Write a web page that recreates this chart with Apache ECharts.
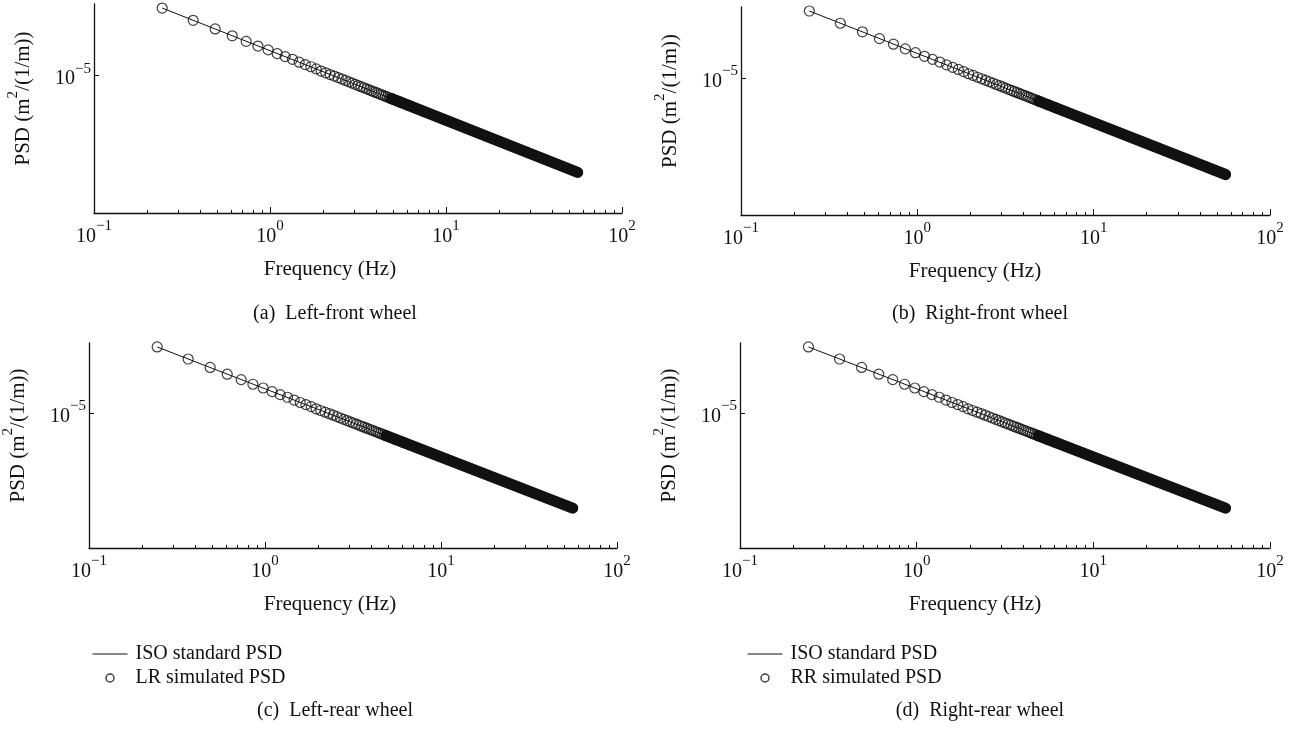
<!DOCTYPE html>
<html>
<head>
<meta charset="utf-8">
<title>PSD of road input, four wheels</title>
<script src="https://cdn.jsdelivr.net/npm/echarts@6/dist/echarts.min.js"></script>
<style>
  html, body { margin: 0; padding: 0; background: #fff; }
  #chart { width: 1307px; height: 736px; }
</style>
</head>
<body>
<div id="chart"></div>
<script>
// simulated PSD points (Hz, m^2/(1/m))
var simFreq = [0.244, 0.366, 0.488, 0.610, 0.732, 0.854, 0.976, 1.098, 1.220, 1.342,
  1.464, 1.586, 1.708, 1.830, 1.952, 2.074, 2.196, 2.318, 2.440, 2.562,
  2.684, 2.806, 2.928, 3.050, 3.172, 3.294, 3.416, 3.538, 3.660, 3.782,
  3.904, 4.026, 4.148, 4.270, 4.392, 4.514, 4.636, 4.758, 4.880, 5.490, 6.100]
var simPsd = [3.04e-5, 2.48e-5, 2.15e-5, 1.92e-5, 1.75e-5, 1.62e-5, 1.52e-5, 1.43e-5, 1.36e-5, 1.30e-5,
  1.24e-5, 1.19e-5, 1.15e-5, 1.11e-5, 1.07e-5, 1.04e-5, 1.01e-5, 9.85e-6, 9.60e-6, 9.37e-6,
  9.16e-6, 8.95e-6, 8.77e-6, 8.59e-6, 8.42e-6, 8.26e-6, 8.12e-6, 7.97e-6, 7.84e-6, 7.71e-6,
  7.59e-6, 7.48e-6, 7.37e-6, 7.26e-6, 7.16e-6, 7.06e-6, 6.97e-6, 6.88e-6, 6.79e-6, 6.40e-6, 6.07e-6]
// above ~5 Hz the circles merge into a solid band up to the last bin
var bandFreq = [4.88, 56.0]
var bandPsd = [6.79e-6, 2.00e-6]
// ISO standard PSD line
var isoFreq = [0.244, 56.0]
var isoPsd = [3.04e-5, 2.00e-6]

var xTicks = [0.1, 1, 10, 100]
var xMinorTicks = [0.2, 0.3, 0.4, 0.5, 0.6, 0.7, 0.8, 0.9, 2, 3, 4, 5, 6, 7, 8, 9, 20, 30, 40, 50, 60, 70, 80, 90]
var yTicks = [1e-5]

var panelTitles = ['(a)  Left-front wheel', '(b)  Right-front wheel', '(c)  Left-rear wheel', '(d)  Right-rear wheel']
var simNames = ['LF simulated PSD', 'RF simulated PSD', 'LR simulated PSD', 'RR simulated PSD']
var isoName = 'ISO standard PSD'

var FONT = 'Liberation Serif'
var INK = '#111'

// grid boxes and where the captions go
var layout = [
  { left: 94, top: 4, width: 528, height: 209, cx: 330, titleTop: 299 },
  { left: 741, top: 7, width: 529, height: 208, cx: 975, titleTop: 299 },
  { left: 89, top: 343, width: 528, height: 205, cx: 330, titleTop: 696, legendLeft: 87 },
  { left: 740, top: 343, width: 530, height: 205, cx: 975, titleTop: 696, legendLeft: 742 }
]

var rich = {
  b: { fontFamily: FONT, fontSize: 20, color: INK, lineHeight: 28, verticalAlign: 'bottom' },
  s: { fontFamily: FONT, fontSize: 15, color: INK, lineHeight: 15, verticalAlign: 'top' }
}
var richName = {
  b: { fontFamily: FONT, fontSize: 21, color: INK, lineHeight: 28, verticalAlign: 'bottom' },
  s: { fontFamily: FONT, fontSize: 15, color: INK, lineHeight: 15, verticalAlign: 'top' }
}

function powLabel(v) {
  var e = Math.round(Math.log10(v))
  return '{b|10}{s|' + String(e).replace('-', '\u2212') + '}'
}

function zip(a, b) {
  return a.map(function(v, i) { return [v, b[i]] })
}

var grids = []
var xAxes = []
var yAxes = []
var series = []
var titles = []
var legends = []

layout.forEach(function(p, i) {
  grids.push({ left: p.left, top: p.top, width: p.width, height: p.height })
  var axisLine = { show: true, onZero: false, lineStyle: { color: INK, width: 1.3 } }
  xAxes.push({
    type: 'log', gridIndex: i, position: 'bottom', min: 0.1, max: 100,
    axisLine: axisLine,
    axisTick: { show: true, inside: true, length: 6, customValues: xTicks, lineStyle: { color: INK, width: 1 } },
    axisLabel: { customValues: xTicks, margin: 6, formatter: powLabel, rich: rich },
    splitLine: { show: false },
    name: 'Frequency (Hz)', nameLocation: 'middle', nameGap: 46,
    nameTextStyle: { fontFamily: FONT, fontSize: 21, color: INK, padding: [0, 2 * (p.left + p.width / 2 - p.cx), 0, 0] }
  })
  // minor ticks 2..9 of each decade
  xAxes.push({
    type: 'log', gridIndex: i, position: 'bottom', min: 0.1, max: 100,
    axisLine: { show: false },
    axisTick: { show: true, inside: true, length: 3, customValues: xMinorTicks, lineStyle: { color: INK, width: 1 } },
    axisLabel: { show: false },
    splitLine: { show: false }
  })
  yAxes.push({
    type: 'log', gridIndex: i, min: 1.02e-6, max: 3.25e-5,
    axisLine: axisLine,
    axisTick: { show: true, inside: true, length: 5, customValues: yTicks, lineStyle: { color: INK, width: 1 } },
    axisLabel: { customValues: yTicks, margin: 3, formatter: powLabel, rich: rich },
    splitLine: { show: false },
    name: '{b|PSD (m}{s|2}{b|/(1/m))}', nameLocation: 'middle', nameRotate: 90, nameGap: 60,
    nameTextStyle: { rich: richName, padding: [0, 0, 0, 20] }
  })

  var xi = i * 2
  series.push({
    name: isoName, type: 'line', xAxisIndex: xi, yAxisIndex: i,
    data: zip(isoFreq, isoPsd), symbol: 'none', silent: true,
    lineStyle: { color: INK, width: 1 }, itemStyle: { color: INK }, z: 3
  })
  series.push({
    name: simNames[i], type: 'scatter', xAxisIndex: xi, yAxisIndex: i,
    data: zip(simFreq, simPsd), symbol: 'circle', symbolSize: 10,
    itemStyle: { color: 'transparent', borderColor: INK, borderWidth: 1.2 }, z: 2
  })
  series.push({
    name: simNames[i], type: 'line', xAxisIndex: xi, yAxisIndex: i,
    data: zip(bandFreq, bandPsd), symbol: 'none', silent: true,
    lineStyle: { color: INK, width: 11.2, cap: 'round' }, itemStyle: { color: INK }, z: 2
  })

  titles.push({
    text: panelTitles[i], left: p.cx, top: p.titleTop, textAlign: 'center',
    textStyle: { fontFamily: FONT, fontSize: 20, fontWeight: 'normal', color: INK }
  })

  if (p.legendLeft != null) {
    legends.push({
      orient: 'vertical', left: p.legendLeft, top: 639, itemGap: 4,
      itemWidth: 35, itemHeight: 8, selectedMode: false,
      data: [
        {
          name: isoName,
          lineStyle: { color: INK, width: 1 },
          itemStyle: { color: 'transparent', borderColor: 'transparent', borderWidth: 0 }
        },
        { name: simNames[i], itemStyle: { color: 'transparent', borderColor: INK, borderWidth: 1.5 } }
      ],
      textStyle: { fontFamily: FONT, fontSize: 20, color: INK, padding: [0, 0, 0, 3] }
    })
  }
})

var chart = echarts.init(document.getElementById('chart'))
chart.setOption({
  animation: false,
  backgroundColor: '#fff',
  title: titles,
  legend: legends,
  grid: grids,
  xAxis: xAxes,
  yAxis: yAxes,
  series: series
})
</script>
</body>
</html>
